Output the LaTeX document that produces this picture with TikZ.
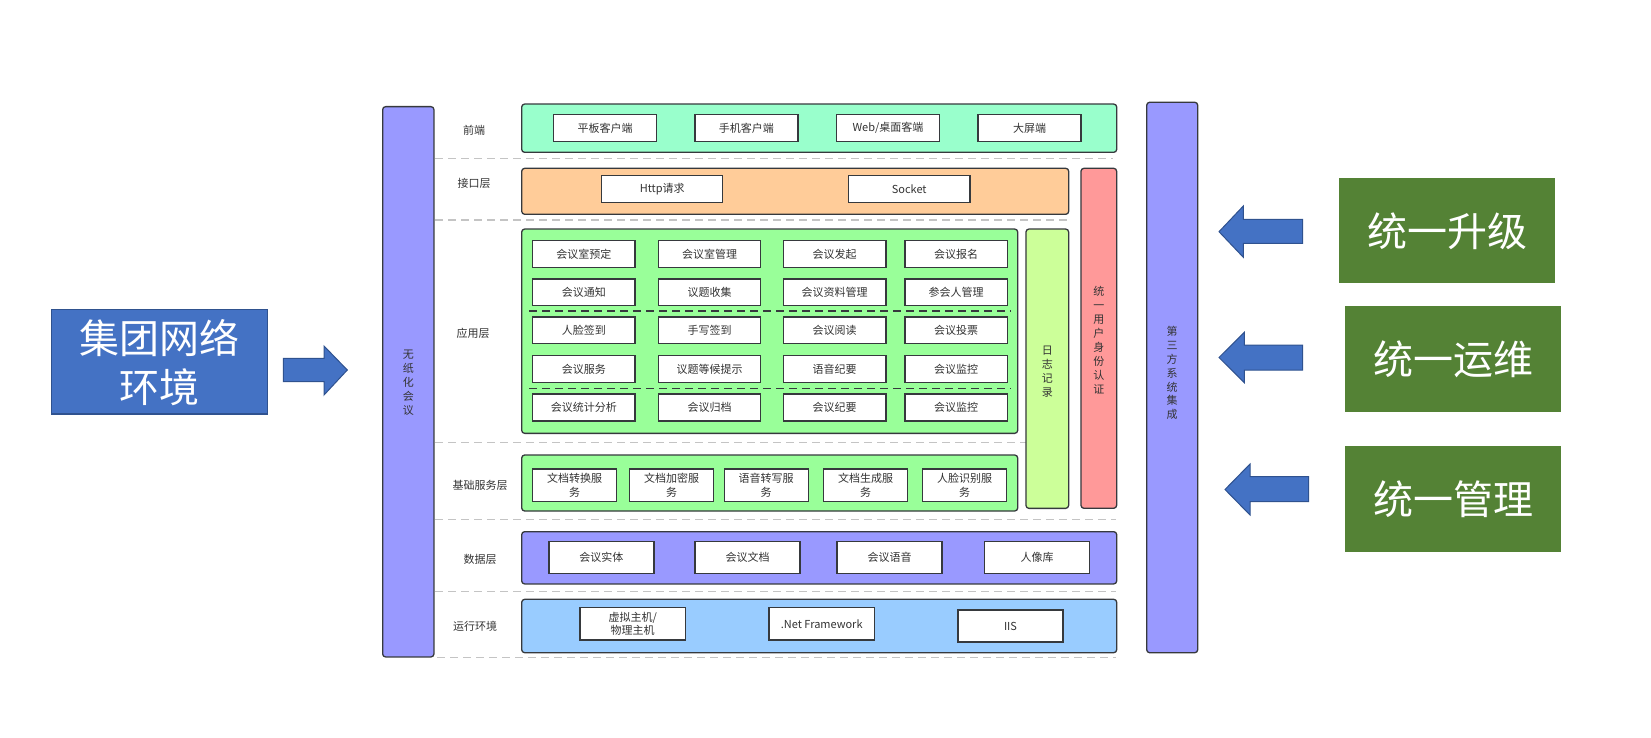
\documentclass[tikz,border=0pt]{standalone}
\usepackage{fontspec}
\newfontfamily\cjk{Noto Sans CJK SC}
\definecolor{edge}{HTML}{36393D}
\definecolor{txt}{HTML}{333333}
\definecolor{mint}{HTML}{99FFCC}
\definecolor{orng}{HTML}{FFCC99}
\definecolor{appg}{HTML}{99FF99}
\definecolor{logg}{HTML}{CCFF99}
\definecolor{redb}{HTML}{FF9999}
\definecolor{purp}{HTML}{9999FF}
\definecolor{skyb}{HTML}{99CCFF}
\definecolor{blu}{HTML}{4472C4}
\definecolor{bluedge}{HTML}{2F528F}
\definecolor{grn}{HTML}{548235}
\definecolor{dash}{HTML}{C4C4C4}
\tikzset{
  every node/.style={inner sep=0pt, outer sep=0pt, font=\cjk\fontsize{11}{13.9}\selectfont, text=txt},
  layer/.style={draw=edge, line width=1.3pt, rounded corners=3pt},
  item/.style={draw=edge, fill=white, line width=1.4pt, align=center},
  vtext/.style={align=center},
  lbl/.style={},
  sep/.style={draw=dash, line width=1.3pt, dash pattern=on 8pt off 5pt},
  insep/.style={draw=edge, line width=1.3pt, dash pattern=on 8pt off 5pt},
  bigtxt/.style={text=white, font=\cjk\fontsize{40}{48.4}\selectfont, align=center},
  blockarrow/.style={fill=blu, draw=bluedge, line width=1pt},
}
\begin{document}
\begin{tikzpicture}[x=1pt,y=-1pt]
\useasboundingbox (0,0) rectangle (1651,738);
% separators
\draw[sep] (435,158.3) -- (1113,158.3);
\draw[sep] (435,220) -- (1068.7,220);
\draw[sep] (435,442.3) -- (1026,442.3);
\draw[sep] (435,519.3) -- (1116,519.3);
\draw[sep] (435,591.7) -- (1116,591.7);
\draw[sep] (437,657.3) -- (1116,657.3);
% side bars
\node[layer, fill=purp, minimum width=51.3pt, minimum height=550.3pt] (wzh) at (408.3,381.8) {};
\node[vtext] (wzht) at (408.3,382.7) {无\\纸\\化\\会\\议};
\node[layer, fill=purp, minimum width=51pt, minimum height=550.5pt] (dsf) at (1172.2,377.5) {};
\node[vtext] (dsft) at (1172.2,373) {第\\三\\方\\系\\统\\集\\成};
% layer labels
\node[lbl] (l1) at (474,130) {前端};
\node[lbl] (l2) at (474,183) {接口层};
\node[lbl] (l3) at (473,333) {应用层};
\node[lbl] (l4) at (480,485) {基础服务层};
\node[lbl] (l5) at (480,559) {数据层};
\node[lbl] (l6) at (475,626) {运行环境};
% front
\node[layer, fill=mint, minimum width=595pt, minimum height=48.3pt] (front) at (819.2,128.2) {};
\node[item, minimum width=103pt, minimum height=27.5pt] (f1) at (605,128) {平板客户端};
\node[item, minimum width=103pt, minimum height=27.5pt] (f2) at (746.3,128) {手机客户端};
\node[item, minimum width=103pt, minimum height=27.5pt] (f3) at (888,128) {Web/桌面客端};
\node[item, minimum width=103pt, minimum height=27.5pt] (f4) at (1029.5,128) {大屏端};
% interface
\node[layer, fill=orng, minimum width=547pt, minimum height=46pt] (iface) at (795.2,191.3) {};
\node[item, minimum width=121pt, minimum height=26.7pt] (http) at (662.2,189) {Http请求};
\node[item, minimum width=121.7pt, minimum height=26.7pt] (sock) at (909.2,189) {Socket};
% red bar & log
\node[layer, fill=redb, minimum width=35.7pt, minimum height=340pt] (auth) at (1098.8,338.3) {};
\node[vtext] (autht) at (1098.8,340) {统\\一\\用\\户\\身\\份\\认\\证};
\node[layer, fill=logg, minimum width=42.7pt, minimum height=279.3pt] (log) at (1047.3,368.7) {};
\node[vtext] (logt) at (1047.3,372) {日\\志\\记\\录};
% application
\node[layer, fill=appg, minimum width=496pt, minimum height=204.3pt] (app) at (769.7,331.2) {};
\draw[insep] (529,311) -- (1010.7,311);
\draw[insep] (529,388.3) -- (1010.7,388.3);
\foreach \n/\x/\y/\t in {
 a1/583.8/254/会议室预定, a2/709.5/254/会议室管理, a3/834.7/254/会议发起, a4/956.2/254/会议报名,
 a5/583.8/292.2/会议通知, a6/709.5/292.2/议题收集, a7/834.7/292.2/会议资料管理, a8/956.2/292.2/参会人管理,
 a9/583.8/330.3/人脸签到, a10/709.5/330.3/手写签到, a11/834.7/330.3/会议阅读, a12/956.2/330.3/会议投票,
 a13/583.8/369/会议服务, a14/709.5/369/议题等候提示, a15/834.7/369/语音纪要, a16/956.2/369/会议监控,
 a17/583.8/407.5/会议统计分析, a18/709.5/407.5/会议归档, a19/834.7/407.5/会议纪要, a20/956.2/407.5/会议监控}
 {\node[item, minimum width=102.5pt, minimum height=26.7pt] (\n) at (\x,\y) {\t};}
% basic services
\node[layer, fill=appg, minimum width=496pt, minimum height=56pt] (basic) at (769.7,483) {};
\foreach \n/\x/\t in {b1/574.7/文档转换服, b2/671.7/文档加密服, b3/766.2/语音转写服, b4/865.5/文档生成服, b5/964.7/人脸识别服}
 {\node[item, minimum width=84pt, minimum height=32.7pt, font=\cjk\fontsize{11}{13.3}\selectfont] (\n) at (\x,485.3) {\t\\务};}
% data
\node[layer, fill=purp, minimum width=595pt, minimum height=52.3pt] (data) at (819.2,557.8) {};
\foreach \n/\x/\t in {d1/601.3/会议实体, d2/747.5/会议文档, d3/889.5/会议语音, d4/1037/人像库}
 {\node[item, minimum width=105pt, minimum height=31.6pt] (\n) at (\x,557.5) {\t};}
% runtime
\node[layer, fill=skyb, minimum width=595pt, minimum height=53.4pt] (run) at (819.2,626) {};
\node[item, minimum width=105.4pt, minimum height=32.3pt, font=\cjk\fontsize{11}{12.5}\selectfont] (r1) at (632.7,623.8) {虚拟主机/\\物理主机};
\node[item, minimum width=105.5pt, minimum height=32.3pt] (r2) at (821.7,623.8) {.Net Framework};
\node[item, minimum width=105pt, minimum height=32pt] (r3) at (1010.5,626) {IIS};
% left big box and arrow
\node[fill=blu, draw=bluedge, line width=1.2pt, minimum width=216pt, minimum height=104.7pt] (net) at (159.7,361.7) {};
\node[bigtxt] (nett) at (159.7,362.5) {集团网络\\环境};
\draw[blockarrow] (283.3,358.3) -- (324,358.3) -- (324,346) -- (347.3,370) -- (324,395) -- (324,381.7) -- (283.3,381.7) -- cycle;
% right green boxes
\node[fill=grn, minimum width=216pt, minimum height=105pt] (g1) at (1447,230.8) {};
\node[bigtxt] (g1t) at (1447,230.8) {统一升级};
\node[fill=grn, minimum width=216pt, minimum height=105.7pt] (g2) at (1453,358.8) {};
\node[bigtxt] (g2t) at (1453,358.8) {统一运维};
\node[fill=grn, minimum width=216pt, minimum height=105.7pt] (g3) at (1453,498.8) {};
\node[bigtxt] (g3t) at (1453,498.8) {统一管理};
% left arrows
\draw[blockarrow] (1219,231.7) -- (1243.3,206) -- (1243.3,219.3) -- (1302.7,219.3) -- (1302.7,243.3) -- (1243.3,243.3) -- (1243.3,257.3) -- cycle;
\draw[blockarrow] (1219,357.5) -- (1244.3,332.3) -- (1244.3,345) -- (1302.7,345) -- (1302.7,370) -- (1244.3,370) -- (1244.3,382.7) -- cycle;
\draw[blockarrow] (1225,489.5) -- (1250,464) -- (1250,476.7) -- (1308.7,476.7) -- (1308.7,501.7) -- (1250,501.7) -- (1250,515) -- cycle;
\end{tikzpicture}
\end{document}
